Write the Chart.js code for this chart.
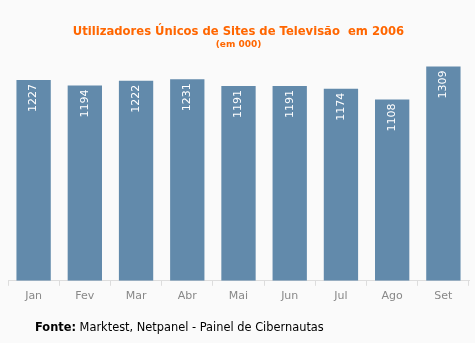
<!DOCTYPE html>
<html><head><meta charset="utf-8">
<script src="https://cdn.jsdelivr.net/npm/chart.js@4"></script>
<style>
html,body{margin:0;padding:0;background:#fafafa;}
#wrap{position:relative;width:475px;height:343px;}
#foot{position:absolute;left:35px;top:320px;font:11.4px "DejaVu Sans",Verdana,sans-serif;color:#000;}
</style></head><body>
<div id="wrap"><canvas id="c" width="475" height="343"></canvas>
<div id="foot"><b>Fonte:</b> Marktest, Netpanel - Painel de Cibernautas</div></div>
<script>
const categories = ["Jan","Fev","Mar","Abr","Mai","Jun","Jul","Ago","Set"];
const values = [1227,1194,1222,1231,1191,1191,1174,1108,1309];
const titleText = "Utilizadores Únicos de Sites de Televisão  em 2006";
const subtitleText = "(em 000)";

const labelPlugin = {
  id:'barLabels',
  afterDatasetsDraw(chart){
    const ctx = chart.ctx;
    const meta = chart.getDatasetMeta(0);
    ctx.save();
    ctx.fillStyle = '#ffffff';
    ctx.font = '11px "DejaVu Sans", Verdana, sans-serif';
    ctx.textAlign = 'right';
    ctx.textBaseline = 'middle';
    meta.data.forEach((bar,i)=>{
      ctx.save();
      ctx.translate(bar.x, bar.y + 4);
      ctx.rotate(-Math.PI/2);
      ctx.fillText(String(values[i]), 0, 0);
      ctx.restore();
    });
    ctx.restore();
  }
};

new Chart(document.getElementById('c'), {
  type:'bar',
  data:{labels:categories, datasets:[{data:values, backgroundColor:'#628aab', barPercentage:0.67, categoryPercentage:1}]},
  options:{
    responsive:false, animation:false,
    layout:{padding:{left:8,right:6,bottom:36,top:0}},
    plugins:{
      legend:{display:false}, tooltip:{enabled:false},
      title:{display:true, text:titleText, color:'#ff6600', font:{family:'"DejaVu Sans", Verdana, sans-serif', size:11.6, weight:'bold'}, padding:{top:25,bottom:0}},
      subtitle:{display:true, text:subtitleText, color:'#ff6600', font:{family:'"DejaVu Sans", Verdana, sans-serif', size:9, weight:'bold'}, padding:{top:0,bottom:2}}
    },
    scales:{
      x:{grid:{display:true, offset:true, drawOnChartArea:false, color:'#dddddd', tickLength:5}, border:{color:'#dddddd'},
         ticks:{color:'#888888', font:{family:'"DejaVu Sans", Verdana, sans-serif', size:11}, padding:4}},
      y:{display:false, min:0, max:1400}
    }
  },
  plugins:[labelPlugin]
});
</script></body></html>
